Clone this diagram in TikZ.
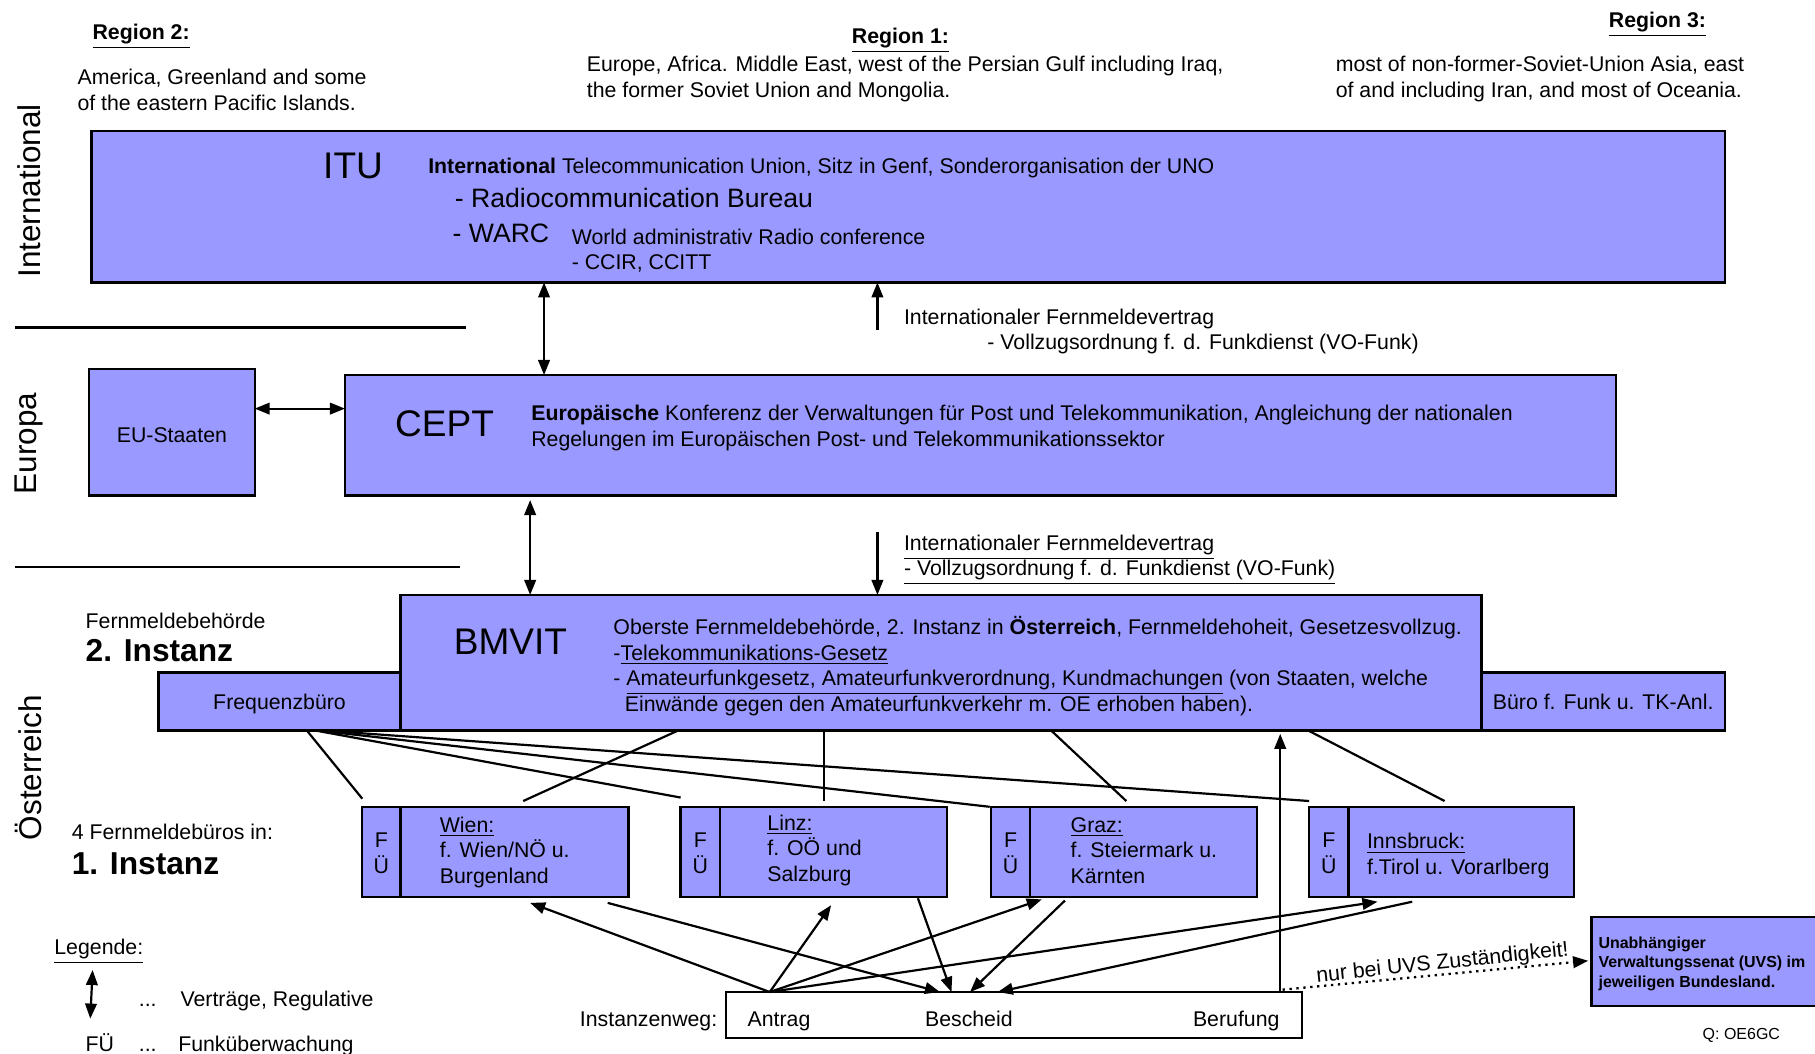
\documentclass[tikz,border=0pt]{standalone}
\usepackage{fontspec}
\setmainfont{Liberation Sans}
\usetikzlibrary{arrows.meta,fit,calc}
\definecolor{boxfill}{HTML}{9999FF}
\begin{document}
\begin{tikzpicture}[x=0.5pt,y=-0.5pt,
  every node/.style={inner sep=0pt, outer sep=0pt, font=\fontsize{9.2}{11}\selectfont},
  box/.style={draw, line width=1pt, fill=boxfill},
  wbox/.style={draw, line width=1pt, fill=white},
  st/.style={execute at begin node=\strut, execute at end node=\strut, yshift=-1.4pt},
  txt/.style={anchor=west, align=left, st},
  big/.style={font=\fontsize{16}{19}\selectfont},
  mid/.style={font=\fontsize{11.5}{14}\selectfont},
  side/.style={font=\fontsize{13.6}{16}\selectfont},
  inst/.style={font=\fontsize{13.7}{16}\selectfont\bfseries},
  small/.style={font=\fontsize{6.9}{8.5}\selectfont\bfseries},
  tiny/.style={font=\fontsize{6.9}{8.5}\selectfont},
  conn/.style={line width=0.95pt},
  arr/.style={line width=0.95pt, -{Triangle[length=6.5pt,width=5pt]}},
  dbl/.style={line width=0.95pt, {Triangle[length=6.5pt,width=5pt]}-{Triangle[length=6.5pt,width=5pt]}},
]
\useasboundingbox (0,0) rectangle (1568,910);

% ---------- region headers ----------
\node[txt] (r2) at (80,28) {\bfseries\underline{Region 2:}};
\node[txt] (r1) at (736,31) {\bfseries\underline{Region 1:}};
\node[txt] (r3) at (1390,17) {\bfseries\underline{Region 3:}};
\node[txt] (r2t) at (67,78) {America, Greenland and some\\of the eastern Pacific Islands.};
\node[txt] (r1t) at (507,67) {Europe, Africa. Middle East, west of the Persian Gulf including Iraq,\\the former Soviet Union and Mongolia.};
\node[txt] (r3t) at (1154,67) {most of non-former-Soviet-Union Asia, east\\of and including Iran, and most of Oceania.};

% ---------- side labels ----------
\node[side, rotate=90] (lint) at (25,165) {International};
\node[side, rotate=90] (leur) at (25,383) {Europa};
\node[side, rotate=90] (laut) at (25,663) {Österreich};
\draw[conn] (13,283) -- (403,283);
\draw[conn] (13,490) -- (397,490);

% ---------- ITU ----------
\node[box, fit={(79,113) (1490,244)}] (itu) {};
\node[big, st] (itut) at (305,144) {ITU};
\node[txt] (itu1) at (370,143) {\textbf{International} Telecommunication Union, Sitz in Genf, Sonderorganisation der UNO};
\node[txt, mid] (itu2) at (393,171) {- Radiocommunication Bureau};
\node[txt, mid] (itu3) at (391,201) {- WARC};
\node[txt] (itu4) at (494,204) {World administrativ Radio conference};
\node[txt] (itu5) at (494,226) {- CCIR, CCITT};

% ---------- CEPT / EU ----------
\node[box, fit={(77,319) (220,428)}] (eu) {};
\node[st, yshift=-0.6pt] (eut) at (eu.center) {EU-Staaten};
\node[box, fit={(298,324) (1396,428)}] (cept) {};
\node[big, st] (ceptt) at (384,367) {CEPT};
\node[txt] (cept1) at (459,368.5) {\textbf{Europäische} Konferenz der Verwaltungen für Post und Telekommunikation, Angleichung der nationalen\\Regelungen im Europäischen Post- und Telekommunikationssektor};

\coordinate (vtop) at (758,285);
\node[txt] (vt1) at (781,273) {Internationaler Fernmeldevertrag};
\node[txt] (vt2) at (853,295) {- Vollzugsordnung f. d. Funkdienst (VO-Funk)};
\draw[arr] (vtop) -- ($(itu.south west)+(679,0)$);
\draw[dbl] ($(itu.south west)+(391,0)$) -- ($(cept.north west)+(172,0)$);
\coordinate (eua) at ($(eu.north east)+(0,34)$);
\draw[dbl] (eua) -- (eua -| cept.west);

% ---------- Austria ----------
\node[box, fit={(137,581) (346,631)}] (freq) {};
\node[st] (freqt) at (freq.center) {Frequenzbüro};
\node[box, fit={(346,514) (1280,631)}] (bmvit) {};
\node[box, fit={(1280,581) (1490,631)}] (buero) {};
\node[st] (buerot) at (buero.center) {Büro f. Funk u. TK-Anl.};
\node[big, st] (bmvitt) at (441,555) {BMVIT};
\node[txt] (bm1) at (530,574) {Oberste Fernmeldebehörde, 2. Instanz in \textbf{Österreich}, Fernmeldehoheit, Gesetzesvollzug.\\
-\underline{Telekommunikations-Gesetz}\\
- \underline{Amateurfunkgesetz, Amateurfunkverordnung, Kundmachungen} (von Staaten, welche\\
\hspace*{4.9pt}Einwände gegen den Amateurfunkverkehr m. OE erhoben haben).};

\draw[dbl] ($(cept.south west)+(160,4)$) -- ($(bmvit.north west)+(112,0)$);
\coordinate (vbot) at (758,460);
\draw[arr] (vbot) -- ($(bmvit.north west)+(412,0)$);
\node[txt] (vb1) at (781,469) {\underline{Internationaler Fernmeldevertrag}};
\node[txt] (vb2) at (781,491) {\underline{- Vollzugsordnung f. d. Funkdienst (VO-Funk)}};

\node[txt] (fb) at (74,536) {Fernmeldebehörde};
\node[txt, inst] (i2) at (74,562) {2. Instanz};
\node[txt] (fb4) at (62,718) {4 Fernmeldebüros in:};
\node[txt, inst] (i1) at (62,746) {1. Instanz};

% offices
\node[box, fit={(313,697) (346,775)}] (wfu) {};
\node[align=center, st, yshift=-0.8pt] (wfut) at (wfu.center) {F\\Ü};
\node[box, fit={(346,697) (543,775)}] (wien) {};
\node[txt] (wient) at (380,735) {\underline{Wien:}\\f. Wien/NÖ u.\\Burgenland};
\node[box, fit={(588,697) (622,775)}] (lfu) {};
\node[align=center, st, yshift=-0.8pt] (lfut) at (lfu.center) {F\\Ü};
\node[box, fit={(622,697) (818,775)}] (linz) {};
\node[txt] (linzt) at (663,733) {\underline{Linz:}\\f. OÖ und\\Salzburg};
\node[box, fit={(856,697) (890,775)}] (gfu) {};
\node[align=center, st, yshift=-0.8pt] (gfut) at (gfu.center) {F\\Ü};
\node[box, fit={(890,697) (1086,775)}] (graz) {};
\node[txt] (grazt) at (925,735) {\underline{Graz:}\\f. Steiermark u.\\Kärnten};
\node[box, fit={(1131,697) (1165,775)}] (ifu) {};
\node[align=center, st, yshift=-0.8pt] (ifut) at (ifu.center) {F\\Ü};
\node[box, fit={(1165,697) (1360,775)}] (inns) {};
\node[txt] (innst) at (1181,738) {\underline{Innsbruck:}\\f.Tirol u. Vorarlberg};

% Frequenzbuero lines
\draw[conn] ($(freq.south west)+(128,0)$) -- ($(wfu.north west)+(0,-7)$);
\draw[conn] ($(freq.south west)+(135,0)$) -- ($(lfu.north west)+(0,-8)$);
\draw[conn] ($(freq.south west)+(137,0)$) -- ($(gfu.north west)+(-1,0)$);
\draw[conn] ($(freq.south west)+(141,0)$) -- ($(ifu.north west)+(0,-5)$);
% BMVIT lines
\draw[conn] ($(bmvit.south west)+(240,0)$) -- ($(wien.north west)+(106,-5)$);
\draw[conn] ($(bmvit.south west)+(366,0)$) -- ($(linz.north west)+(90,-5)$);
\draw[conn] ($(bmvit.south west)+(562,0)$) -- ($(graz.north west)+(83,-5)$);
\draw[conn] ($(bmvit.south west)+(784,0)$) -- ($(inns.north west)+(83,-5)$);

% Instanzenweg
\node[wbox, fit={(627,857) (1125,897)}] (iw) {};
\node[txt] (iwl) at (501,880) {Instanzenweg:};
\node[st] (antrag) at (673,880) {Antrag};
\node[st] (bescheid) at (837,880) {Bescheid};
\node[st] (berufung) at (1068,880) {Berufung};

\coordinate (as) at ($(iw.north west)+(38,0)$);
\draw[arr] (as) -- ($(wien.south west)+(112,5)$);
\draw[arr] (as) -- ($(linz.south west)+(96,7)$);
\draw[arr] (as) -- ($(graz.south west)+(10,2)$);
\draw[arr] (as) -- ($(inns.south west)+(25,4)$);
\draw[arr] ($(wien.south west)+(179,5)$) -- ($(iw.north west)+(185,0)$);
\draw[arr] ($(linz.south west)+(171,1)$) -- ($(iw.north west)+(195,0)$);
\draw[arr] ($(graz.south west)+(30,3)$) -- ($(iw.north west)+(211,0)$);
\draw[arr] ($(inns.south west)+(55,4)$) -- ($(iw.north west)+(235,0)$);
\draw[arr] ($(iw.north west)+(479,0)$) -- ($(bmvit.south west)+(760,3)$);

% UVS
\node[box, fit={(1375,792) (1574,869)}] (uvs) {};
\node[txt, small] (uvst) at (1381,831) {Unabhängiger\\Verwaltungssenat (UVS) im\\jeweiligen Bundesland.};
\draw[line width=1pt, dotted, -{Triangle[length=6.5pt,width=5pt]}] ($(iw.north west)+(481,-2)$) -- ($(uvs.south west)+(-3,-39)$);
\node[rotate=6, st] (nur) at (1246,830) {nur bei UVS Zuständigkeit!};
\node[txt, tiny] (q) at (1471,892) {Q: OE6GC};

% Legend
\node[txt] (leg) at (47,818) {\underline{Legende:}};
\coordinate (lga) at (80,838);
\coordinate (lgb) at (78,880);
\draw[dbl] (lga) -- (lgb);
\node[txt] (ld1) at (120,862) {...};
\node[txt] (lv) at (156,862) {Verträge, Regulative};
\node[txt] (lfu) at (74,901) {FÜ};
\node[txt] (ld2) at (120,901) {...};
\node[txt] (lf) at (154,901) {Funküberwachung};
\end{tikzpicture}
\end{document}
